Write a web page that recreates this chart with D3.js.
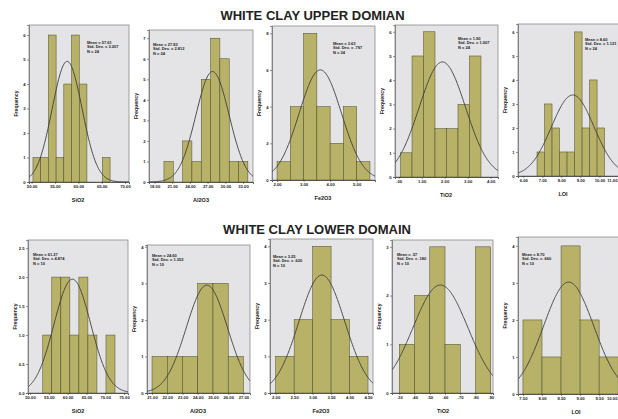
<!DOCTYPE html>
<html><head><meta charset="utf-8">
<script src="https://cdn.jsdelivr.net/npm/d3@7/dist/d3.min.js"></script>
<style>
body{margin:0;background:#fff}
svg{display:block}
text{font-family:"Liberation Sans",Arial,Helvetica,sans-serif;fill:#222}
</style>
</head><body>
<svg id="chart" width="618" height="419"></svg>
<script>
// ---------------- DATA ----------------
const rowTitles = ["WHITE CLAY UPPER DOMIAN", "WHITE CLAY LOWER DOMAIN"];
const variables = ["SiO2", "Al2O3", "Fe2O3", "TiO2", "LOI"];

// Upper domain
const upperCounts   = [[1,1,6,1,4,6,4,0,0,1],[1,0,2,1,5,7,6,1,1],[1,4,8,4,2,4,1],[1,5,6,2,2,3,5],[1,3,2,1,1,6,2,4,2]];
const upperBinStart = [50.3, 19.6, 2.0, 0.08, 6.72];
const upperBinWidth = [1.65, 1.58, 0.5, 0.5, 0.395];
const upperMean     = [57.61, 27.83, 3.63, 1.90, 8.60];
const upperSD       = [3.207, 2.812, 0.797, 1.007, 1.121];
const upperN        = [24, 24, 24, 24, 24];
const upperXDomain  = [[49.45,70.85],[17.07,34.69],[1.81,5.69],[-0.16,4.32],[5.72,11.19]];
const upperXTicks   = [[50,55,60,65,70],[18,21,24,27,30,33],[2,3,4,5],[0,1,2,3,4],[6,7,8,9,10,11]];
const upperYMax     = [6.41, 7.4, 8.4, 6.28, 6.33];
const upperYTicks   = [[0,1,2,3,4,5,6],[0,1,2,3,4,5,6,7],[0,2,4,6,8],[0,1,2,3,4,5,6],[0,1,2,3,4,5,6]];

// Lower domain
const lowerCounts   = [[1,2,2,1,2,1,0,1],[1,1,1,3,3,1],[1,2,4,2,1],[1,2,3,1,0,3],[2,1,4,2,1]];
const lowerBinStart = [53.4, 21, 2.0, 0.3, 7.5];
const lowerBinWidth = [2.4, 1, 0.5, 0.1, 0.5];
const lowerMean     = [61.27, 24.60, 3.25, 0.57, 8.70];
const lowerSD       = [4.874, 1.352, 0.620, 0.180, 0.660];
const lowerN        = [10, 10, 10, 10, 10];
const lowerXDomain  = [[49.47,76.06],[20.67,27.43],[1.846,4.635],[0.252,0.915],[7.37,10.1]];
const lowerXTicks   = [[50,55,60,65,70,75],[21,22,23,24,25,26,27],[2,2.5,3,3.5,4,4.5],[0.3,0.4,0.5,0.6,0.7,0.8,0.9],[7.5,8,8.5,9,9.5,10]];
const lowerYMax     = [2.64, 4.05, 4.2, 3.14, 4.24];
const lowerYTicks   = [[0,0.5,1,1.5,2,2.5],[0,1,2,3,4],[0,1,2,3,4],[0,1,2,3],[0,1,2,3,4]];
const lowerYFormat  = [".1f", "d", "d", "d", "d"];

// ---------------- LAYOUT ----------------
const upperBoxes = [
  {x0:29,  x1:129, y0:25, y1:182, sx:87,  sy:40, lx:78},
  {x0:149, x1:253, y0:30, y1:182, sx:153, sy:42, lx:201},
  {x0:272, x1:375, y0:26, y1:180, sx:333, sy:41, lx:323},
  {x0:395, x1:498, y0:25, y1:177, sx:458, sy:36, lx:446},
  {x0:518, x1:622, y0:24, y1:176, sx:585, sy:37, lx:563}
];
const lowerBoxes = [
  {x0:28,  x1:128, y0:240, y1:393, sx:33,  sy:252, lx:78},
  {x0:147, x1:250, y0:245, y1:393, sx:152, sy:253, lx:198},
  {x0:270, x1:373, y0:239, y1:393, sx:273, sy:254, lx:321},
  {x0:392, x1:493, y0:240, y1:393, sx:397, sy:252, lx:443},
  {x0:518, x1:622, y0:237, y1:394, sx:522, sy:252, lx:576}
];

const svg = d3.select("#chart");
const COL = {plotBg:"#e4e4e6", frame:"#8a8a8a", bar:"#b7b268", barEdge:"#4a482a", curve:"#3a3a3a"};
const W = 618;

function fmtSPSS(v, digits){
  let s = d3.format("." + digits + "f")(v);
  if (s.startsWith("0.")) s = s.slice(1);
  if (s.startsWith("-0.")) s = "-" + s.slice(2);
  return s;
}

function drawPanel(b, counts, start, bw, mean, sd, n, xDom, xTicks, yMax, yTicks, yFmt, label){
  const x = d3.scaleLinear().domain(xDom).range([b.x0, b.x1]);
  const y = d3.scaleLinear().domain([0, yMax]).range([b.y1, b.y0]);
  const g = svg.append("g");
  const clipId = "clip" + Math.round(b.x0) + "_" + Math.round(b.y0);
  g.append("clipPath").attr("id", clipId).append("rect")
    .attr("x", b.x0).attr("y", b.y0).attr("width", b.x1 - b.x0).attr("height", b.y1 - b.y0);

  g.append("rect").attr("x", b.x0).attr("y", b.y0)
    .attr("width", b.x1 - b.x0).attr("height", b.y1 - b.y0)
    .attr("fill", COL.plotBg).attr("stroke", COL.frame).attr("stroke-width", 0.8);

  const inner = g.append("g").attr("clip-path", "url(#" + clipId + ")");
  const bins = counts.map((c, i) => ({c, a: start + i*bw, b: start + (i+1)*bw})).filter(d => d.c > 0);
  inner.selectAll("rect.bar").data(bins).join("rect").attr("class", "bar")
    .attr("x", d => x(d.a)).attr("width", d => x(d.b) - x(d.a))
    .attr("y", d => y(d.c)).attr("height", d => y(0) - y(d.c))
    .attr("fill", COL.bar).attr("stroke", COL.barEdge).attr("stroke-width", 0.5);

  const xs = d3.range(0, 201).map(i => xDom[0] + (xDom[1] - xDom[0]) * i / 200);
  const pdf = v => n * bw * Math.exp(-0.5 * Math.pow((v - mean) / sd, 2)) / (sd * Math.sqrt(2 * Math.PI));
  inner.append("path").datum(xs)
    .attr("d", d3.line().x(v => x(v)).y(v => y(pdf(v))).curve(d3.curveBasis))
    .attr("fill", "none").attr("stroke", COL.curve).attr("stroke-width", 0.9);

  // axes
  const xAxis = d3.axisBottom(x).tickValues(xTicks).tickSize(2).tickPadding(1.5)
    .tickFormat(v => fmtSPSS(v, 2));
  const xa = g.append("g").attr("transform", "translate(0," + b.y1 + ")").call(xAxis);
  xa.select(".domain").attr("stroke", "#333").attr("stroke-width", 0.8);
  xa.selectAll(".tick line").attr("stroke", "#333").attr("stroke-width", 0.5);
  xa.selectAll("text").attr("font-size", 4.2).attr("font-weight", "bold").attr("fill", "#333");
  // keep labels at the right page edge inside the picture
  xa.selectAll(".tick").each(function(v){
    const t = d3.select(this).select("text");
    const w = t.node().getComputedTextLength();
    const px = x(v);
    if (px + w / 2 > W - 1) t.attr("text-anchor", "end").attr("x", (W - 1) - px);
  });

  const yAxis = d3.axisLeft(y).tickValues(yTicks).tickSize(2).tickPadding(1.5)
    .tickFormat(d3.format(yFmt));
  const ya = g.append("g").attr("transform", "translate(" + b.x0 + ",0)").call(yAxis);
  ya.select(".domain").attr("stroke", "#555").attr("stroke-width", 0.6);
  ya.selectAll(".tick line").attr("stroke", "#333").attr("stroke-width", 0.5);
  ya.selectAll("text").attr("font-size", 4.2).attr("font-weight", "bold").attr("fill", "#333");

  // titles
  g.append("text").attr("x", b.lx).attr("y", b.y1 + 20)
    .attr("text-anchor", "middle").attr("font-size", 5.5).attr("font-weight", "bold").attr("fill", "#333")
    .text(label);
  g.append("text").attr("transform", "translate(" + (b.x0 - 11) + "," + ((b.y0 + b.y1) / 2) + ") rotate(-90)")
    .attr("text-anchor", "middle").attr("font-size", 5.2).attr("font-weight", "bold").attr("fill", "#333")
    .text("Frequency");

  // stats
  const lines = ["Mean = " + fmtSPSS(mean, 2), "Std. Dev. = " + fmtSPSS(sd, 3), "N = " + n];
  g.append("g").selectAll("text").data(lines).join("text")
    .attr("x", b.sx).attr("y", (d, i) => b.sy + 3.5 + i * 4.6)
    .attr("font-size", 4).attr("font-weight", "bold").attr("fill", "#222")
    .text(d => d);
}

variables.forEach((v, i) => {
  drawPanel(upperBoxes[i], upperCounts[i], upperBinStart[i], upperBinWidth[i], upperMean[i], upperSD[i], upperN[i],
    upperXDomain[i], upperXTicks[i], upperYMax[i], upperYTicks[i], "d", v);
  drawPanel(lowerBoxes[i], lowerCounts[i], lowerBinStart[i], lowerBinWidth[i], lowerMean[i], lowerSD[i], lowerN[i],
    lowerXDomain[i], lowerXTicks[i], lowerYMax[i], lowerYTicks[i], lowerYFormat[i], v);
});

svg.append("text").attr("x", 312.5).attr("y", 19.5).attr("text-anchor", "middle")
  .attr("font-size", 13).attr("font-weight", "bold").attr("fill", "#1a1a1a").text(rowTitles[0]);
svg.append("text").attr("x", 317).attr("y", 234).attr("text-anchor", "middle")
  .attr("font-size", 13).attr("font-weight", "bold").attr("fill", "#1a1a1a").text(rowTitles[1]);
</script>
</body></html>
